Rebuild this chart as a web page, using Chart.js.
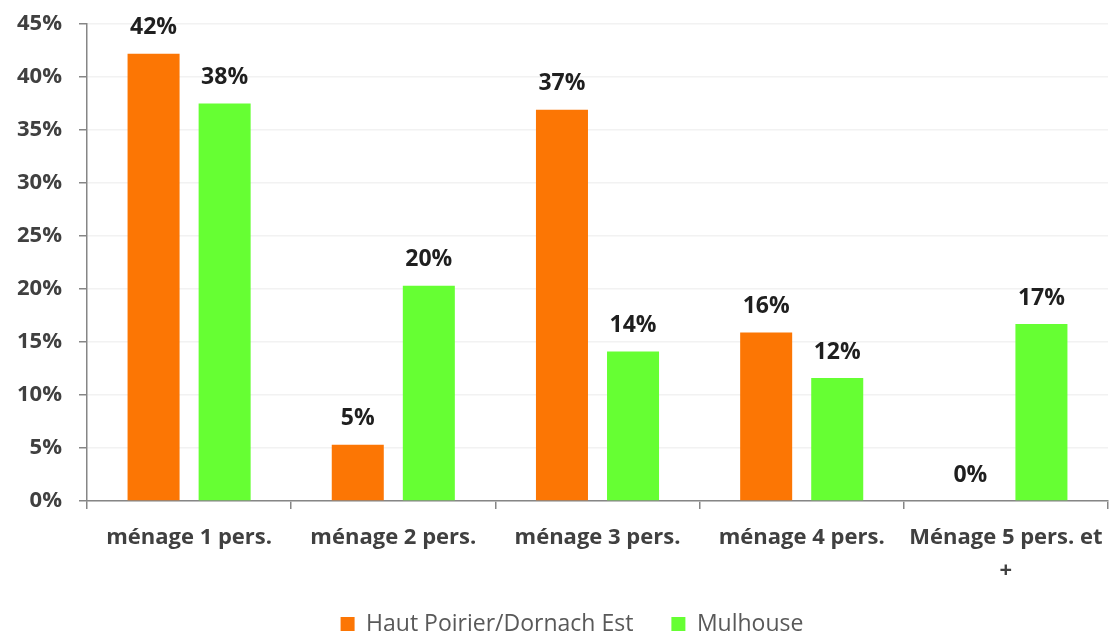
<!DOCTYPE html>
<html>
<head>
<meta charset="utf-8">
<script src="https://cdn.jsdelivr.net/npm/chart.js@4.4.1/dist/chart.umd.min.js"></script>
<style>
  html, body { margin: 0; padding: 0; background: #fff; }
  #wrap { width: 1110px; height: 634px; }
</style>
</head>
<body>
<div id="wrap"><canvas id="chart"></canvas></div>
<script>
// Data (percent)
const categories = ['ménage 1 pers.', 'ménage 2 pers.', 'ménage 3 pers.', 'ménage 4 pers.', ['Ménage 5 pers. et', '+']];
const seriesNames = ['Haut Poirier/Dornach Est', 'Mulhouse'];
const hautPoirier = [42.2, 5.3, 36.9, 15.9, 0];
const mulhouse = [37.5, 20.3, 14.1, 11.6, 16.7];
const yTicks = [0, 5, 10, 15, 20, 25, 30, 35, 40, 45];

const FONT = "'Open Sans', sans-serif";
const PLOT_TOP = 24;
const PLOT_BOTTOM = 501;

// Value labels above each bar
const barLabels = {
  id: 'barLabels',
  afterDatasetsDraw(chart) {
    const ctx = chart.ctx;
    ctx.save();
    ctx.font = 'bold 23px ' + FONT;
    ctx.fillStyle = '#1f1f1f';
    ctx.textAlign = 'center';
    ctx.textBaseline = 'middle';
    chart.data.datasets.forEach((ds, i) => {
      chart.getDatasetMeta(i).data.forEach((bar, j) => {
        ctx.fillText(Math.round(ds.data[j]) + '%', bar.x, bar.y - 26);
      });
    });
    ctx.restore();
  }
};

// Put the legend where the original has it (a bit right of centre, near the bottom)
// and let the x labels run down past the squeezed x-axis box
const legendShift = {
  id: 'legendShift',
  afterLayout(chart) {
    const lg = chart.legend;
    const pad = lg.options.labels.padding;
    lg.left += 18; lg.right += 18;
    lg.top = 624 - pad - 11.5;
    lg.bottom = lg.top + lg.height;
    chart.scales.x.bottom = chart.height;
  }
};

new Chart(document.getElementById('chart'), {
  type: 'bar',
  data: {
    labels: categories,
    datasets: [
      { label: seriesNames[0], data: hautPoirier, backgroundColor: '#FC7604' },
      { label: seriesNames[1], data: mulhouse, backgroundColor: '#66FF33' }
    ]
  },
  options: {
    responsive: true,
    maintainAspectRatio: false,
    animation: false,
    categoryPercentage: 0.696,
    barPercentage: 0.732,
    layout: { padding: { top: 0, right: 2, left: 0, bottom: 0 } },
    plugins: {
      legend: {
        position: 'bottom',
        labels: {
          boxWidth: 14,
          boxHeight: 14,
          padding: 38,
          color: '#595959',
          font: { family: FONT, size: 23 }
        }
      },
      tooltip: { enabled: false }
    },
    scales: {
      x: {
        afterFit(scale) {
          scale.height = 634 - PLOT_BOTTOM - scale.chart.legend.height;
          scale.paddingLeft = 0;
          scale.paddingRight = 0;
        },
        grid: { offset: true, drawOnChartArea: false, tickLength: 8, color: '#868686', lineWidth: 1.5 },
        border: { color: '#868686', width: 1.5 },
        ticks: {
          color: '#404040',
          padding: 12,
          maxRotation: 0,
          font: { family: FONT, size: 22, weight: 'bold', lineHeight: 1.5 }
        }
      },
      y: {
        min: 0,
        max: 45,
        afterBuildTicks(scale) { scale.ticks = yTicks.map(v => ({ value: v })); },
        afterFit(scale) { scale.width = 87; scale.paddingTop = PLOT_TOP; },
        grid: { color: '#f2f2f2', lineWidth: 1.5, tickLength: 8, tickColor: '#868686' },
        border: { color: '#868686', width: 1.5 },
        ticks: {
          color: '#404040',
          padding: 17,
          font: { family: FONT, size: 22, weight: 'bold' },
          callback: v => v + '%'
        }
      }
    }
  },
  plugins: [barLabels, legendShift]
});
</script>
</body>
</html>
